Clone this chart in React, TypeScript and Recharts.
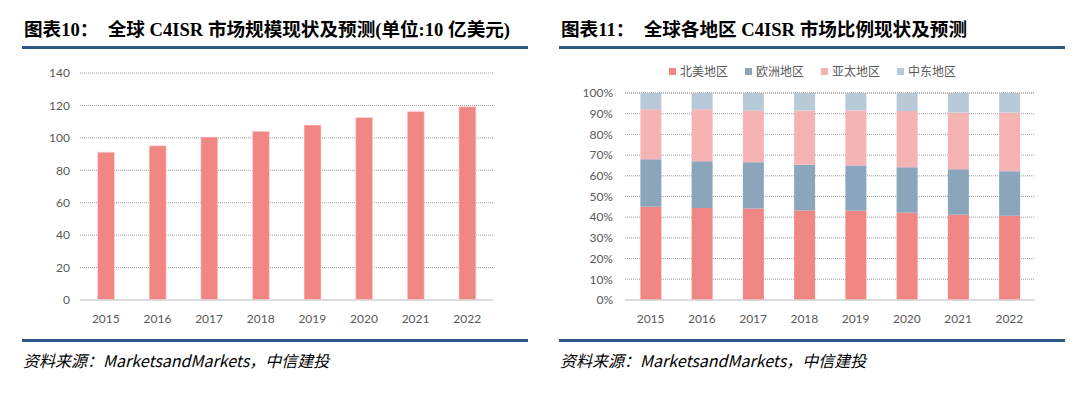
import { Bar, BarChart, CartesianGrid, Legend, XAxis, YAxis } from 'recharts';

const YEARS = ['2015', '2016', '2017', '2018', '2019', '2020', '2021', '2022'];
const MARKET_SIZE = [91.2, 95.1, 100.5, 104, 107.9, 112.6, 116.3, 119.2];

const NORTH_AMERICA = [45.0, 44.4, 44.2, 43.2, 43.1, 42.1, 41.2, 40.7];
const EUROPE = [23.0, 22.6, 22.4, 22.1, 21.9, 22.0, 22.0, 21.5];
const ASIA_PACIFIC = [24.1, 25.1, 24.9, 26.3, 26.6, 27.2, 27.3, 28.3];
const MIDDLE_EAST = [7.9, 7.9, 8.5, 8.4, 8.4, 8.7, 9.5, 9.5];

const LEFT_TICKS = [0, 20, 40, 60, 80, 100, 120, 140];
const RIGHT_TICKS = [0, 10, 20, 30, 40, 50, 60, 70, 80, 90, 100];

const REGIONS = [
  { key: 'na', name: '北美地区', color: '#F08784' },
  { key: 'eu', name: '欧洲地区', color: '#8AA5BC' },
  { key: 'ap', name: '亚太地区', color: '#F5B4B3' },
  { key: 'me', name: '中东地区', color: '#B8CAD7' },
];

const BLUE = '#2C5786';
const GRID = '#9e9e9e';
const AXIS = '#d9d9d9';
const TEXT = '#595959';
const TICK_FONT = 'Lato, "Noto Sans CJK SC", sans-serif';
const TITLE_FONT = '"Liberation Serif", "Noto Sans CJK SC", serif';
const SOURCE_FONT = '"Liberation Sans Narrow", "Noto Sans CJK SC", sans-serif';

const sizeData = YEARS.map((y, i) => ({ year: y, value: MARKET_SIZE[i] }));
const shareData = YEARS.map((y, i) => ({
  year: y,
  na: NORTH_AMERICA[i],
  eu: EUROPE[i],
  ap: ASIA_PACIFIC[i],
  me: MIDDLE_EAST[i],
}));

const tick = { fill: TEXT, fontSize: 12, fontFamily: TICK_FONT };

function Panel({ left, title, children }: { left: number; title: string; children: React.ReactNode }) {
  return (
    <>
      <div
        style={{
          position: 'absolute', left: left + 2, top: 18, fontFamily: TITLE_FONT, fontWeight: 700,
          fontSize: 18.6, color: '#000', whiteSpace: 'pre', lineHeight: '24px',
        }}
      >
        {title}
      </div>
      <div style={{ position: 'absolute', left, top: 46, width: 506, height: 3, background: BLUE }} />
      {children}
      <div style={{ position: 'absolute', left, top: 339, width: 506, height: 3, background: BLUE }} />
      <div
        style={{
          position: 'absolute', left: left + 1, top: 349, fontFamily: SOURCE_FONT, fontStyle: 'italic',
          fontSize: 16, color: '#000', lineHeight: '22px', whiteSpace: 'pre',
        }}
      >
        资料来源：MarketsandMarkets，中信建投
      </div>
    </>
  );
}

function ShareLegend() {
  return (
    <div style={{ display: 'flex', fontFamily: '"Noto Sans CJK SC", sans-serif', fontSize: 12, color: TEXT, height: 16 }}>
      {REGIONS.map((r) => (
        <div key={r.key} style={{ display: 'flex', alignItems: 'center', width: 76 }}>
          <span style={{ width: 7, height: 7, background: r.color, marginRight: 4, display: 'inline-block' }} />
          <span style={{ lineHeight: '16px' }}>{r.name}</span>
        </div>
      ))}
    </div>
  );
}

export default function App() {
  return (
    <div style={{ position: 'absolute', left: 0, top: 0, width: 1080, height: 393, background: '#fff' }}>
      <Panel left={22} title={'图表10：  全球 C4ISR 市场规模现状及预测(单位:10 亿美元)'}>
        <div style={{ position: 'absolute', left: 22, top: 55 }}>
          <BarChart width={490} height={275} data={sizeData} margin={{ top: 18, right: 19, left: 0, bottom: 0 }} barCategoryGap="34%">
            <CartesianGrid stroke={GRID} strokeDasharray="1 1" vertical={false} />
            <XAxis dataKey="year" tick={tick} axisLine={{ stroke: AXIS, strokeWidth: 1.5 }} tickLine={false} tickMargin={8} height={30} />
            <YAxis width={58} domain={[0, 140]} ticks={LEFT_TICKS} interval={0} tick={tick} axisLine={false} tickLine={false} tickSize={0} tickMargin={10} />
            <Bar dataKey="value" fill="#F08784" stroke="#fbe0df" strokeWidth={0.6} isAnimationActive={false} />
          </BarChart>
        </div>
      </Panel>
      <Panel left={559} title={'图表11：  全球各地区 C4ISR 市场比例现状及预测'}>
        <div style={{ position: 'absolute', left: 560, top: 55 }}>
          <BarChart width={500} height={275} data={shareData} margin={{ top: 22, right: 25, left: 0, bottom: 0 }} barCategoryGap="30%">
            <CartesianGrid stroke={GRID} strokeDasharray="1 1" vertical={false} />
            <XAxis dataKey="year" tick={tick} axisLine={{ stroke: AXIS, strokeWidth: 1.5 }} tickLine={false} tickMargin={8} height={30} />
            <YAxis
              width={65}
              domain={[0, 100]}
              ticks={RIGHT_TICKS}
              interval={0}
              tick={tick}
              tickFormatter={(v) => `${v}%`}
              axisLine={false}
              tickLine={false}
              tickSize={0}
              tickMargin={12}
            />
            <Legend
              verticalAlign="top"
              content={() => <ShareLegend />}
              wrapperStyle={{ left: 109, top: 8, width: 'auto' }}
            />
            {REGIONS.map((r) => (
              <Bar key={r.key} dataKey={r.key} name={r.name} stackId="s" fill={r.color} isAnimationActive={false} />
            ))}
          </BarChart>
        </div>
      </Panel>
    </div>
  );
}
